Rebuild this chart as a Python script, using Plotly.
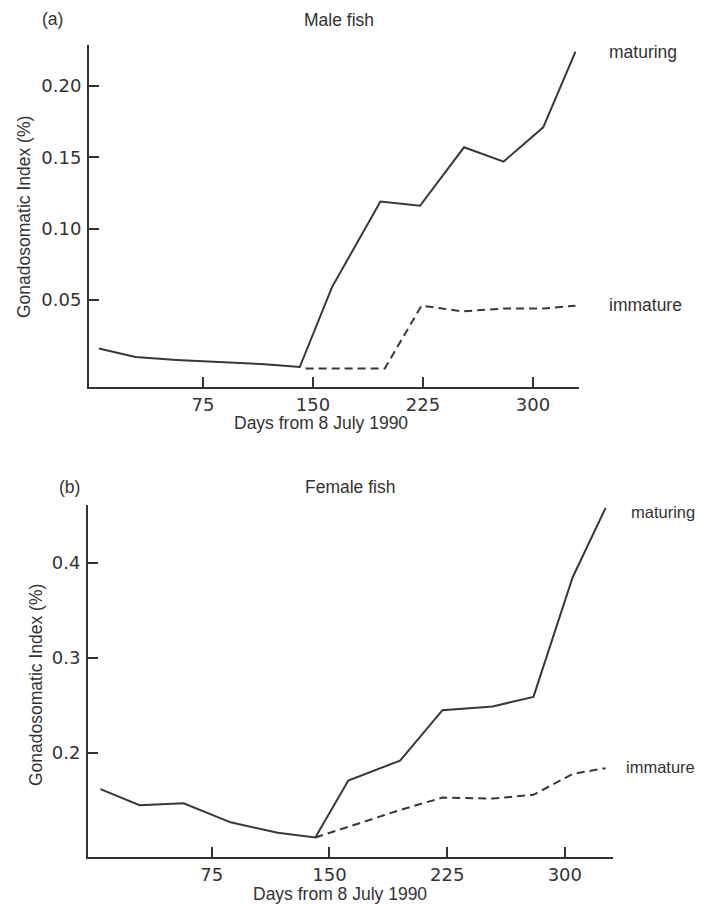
import plotly.graph_objects as go

# ---- data ----
male_days_mat = [4, 29, 57, 87, 117, 141, 163, 196, 223, 253, 280, 307, 329]
male_gsi_mat = [0.016, 0.010, 0.008, 0.0065, 0.005, 0.003, 0.059, 0.119, 0.116, 0.157, 0.147, 0.171, 0.224]
male_days_imm = [145, 168, 199, 224, 252, 280, 307, 329]
male_gsi_imm = [0.002, 0.002, 0.002, 0.046, 0.042, 0.044, 0.044, 0.046]

fem_days_mat = [4, 29, 57, 87, 117, 141, 162, 195, 222, 254, 280, 305, 326]
fem_gsi_mat = [0.162, 0.145, 0.147, 0.127, 0.116, 0.111, 0.171, 0.192, 0.245, 0.249, 0.259, 0.385, 0.458]
fem_days_imm = [141, 162, 195, 222, 254, 280, 305, 326]
fem_gsi_imm = [0.111, 0.122, 0.140, 0.153, 0.152, 0.156, 0.178, 0.184]

x_ticks = [75, 150, 225, 300]
male_y_ticks = [0.05, 0.10, 0.15, 0.20]
male_y_labels = ["0.05", "0.10", "0.15", "0.20"]
fem_y_ticks = [0.2, 0.3, 0.4]
fem_y_labels = ["0.2", "0.3", "0.4"]

# page body has an 8px default margin; figure fills the rest of the window
OFF = 8
W, H = 700, 900
INK = "#333333"
LINE = "#383838"

fig = go.Figure()
fig.add_trace(go.Scatter(x=male_days_mat, y=male_gsi_mat, mode="lines",
                         line=dict(color=LINE, width=2), xaxis="x", yaxis="y", showlegend=False))
fig.add_trace(go.Scatter(x=male_days_imm, y=male_gsi_imm, mode="lines",
                         line=dict(color=LINE, width=2, dash="8px,5px"), xaxis="x", yaxis="y", showlegend=False))
fig.add_trace(go.Scatter(x=fem_days_mat, y=fem_gsi_mat, mode="lines",
                         line=dict(color=LINE, width=2), xaxis="x2", yaxis="y2", showlegend=False))
fig.add_trace(go.Scatter(x=fem_days_imm, y=fem_gsi_imm, mode="lines",
                         line=dict(color=LINE, width=2, dash="8px,5px"), xaxis="x2", yaxis="y2", showlegend=False))


def px(x):
    return (x - OFF) / W


def py(y):
    return 1 - (y - OFF) / H


tickfont = dict(family="DejaVu Sans", size=18, color=INK)
common_ax = dict(showline=True, linecolor=INK, linewidth=2, showgrid=False, zeroline=False,
                 ticks="inside", ticklen=10, tickwidth=2, tickcolor=INK, tickfont=tickfont,
                 mirror=False)

fig.update_layout(
    width=W, height=H,
    margin=dict(l=0, r=0, t=0, b=0),
    paper_bgcolor="white", plot_bgcolor="white",
    xaxis=dict(domain=[px(89), px(579)], range=[-2.7, 331.4], anchor="y",
               tickvals=x_ticks, ticktext=[str(v) for v in x_ticks], **common_ax),
    yaxis=dict(domain=[py(387), py(45)], range=[-0.011, 0.2287], anchor="x",
               tickvals=male_y_ticks, ticktext=male_y_labels, ticklabelstandoff=2, **common_ax),
    xaxis2=dict(domain=[px(88), px(613)], range=[-3.9, 330.7], anchor="y2",
                tickvals=x_ticks, ticktext=[str(v) for v in x_ticks], **common_ax),
    yaxis2=dict(domain=[py(857), py(505)], range=[0.0905, 0.461], anchor="x2",
                tickvals=fem_y_ticks, ticktext=fem_y_labels, ticklabelstandoff=2, **common_ax),
)

tf = dict(family="Liberation Sans, Arial, sans-serif", size=17.5, color=INK)
tf_small = dict(family="Liberation Sans, Arial, sans-serif", size=16.5, color=INK)


def ann(text, x, y, xanchor="center", angle=0, font=tf):
    fig.add_annotation(text=text, x=px(x), y=py(y), xref="paper", yref="paper",
                       xanchor=xanchor, yanchor="middle", showarrow=False, font=font,
                       textangle=angle)


ann("(a)", 53, 19)
ann("Male fish", 339, 20)
ann("maturing", 607, 52, "left")
ann("immature", 607, 305, "left")
ann("Gonadosomatic Index (%)", 24, 217, angle=-90)
ann("Days from 8 July 1990", 321, 423)

ann("(b)", 70, 487)
ann("Female fish", 350, 487)
ann("maturing", 697, 512, "right", font=tf_small)
ann("immature", 697, 767, "right", font=tf_small)
ann("Gonadosomatic Index (%)", 36, 685, angle=-90)
ann("Days from 8 July 1990", 340, 894)

fig.write_html("out.html")
